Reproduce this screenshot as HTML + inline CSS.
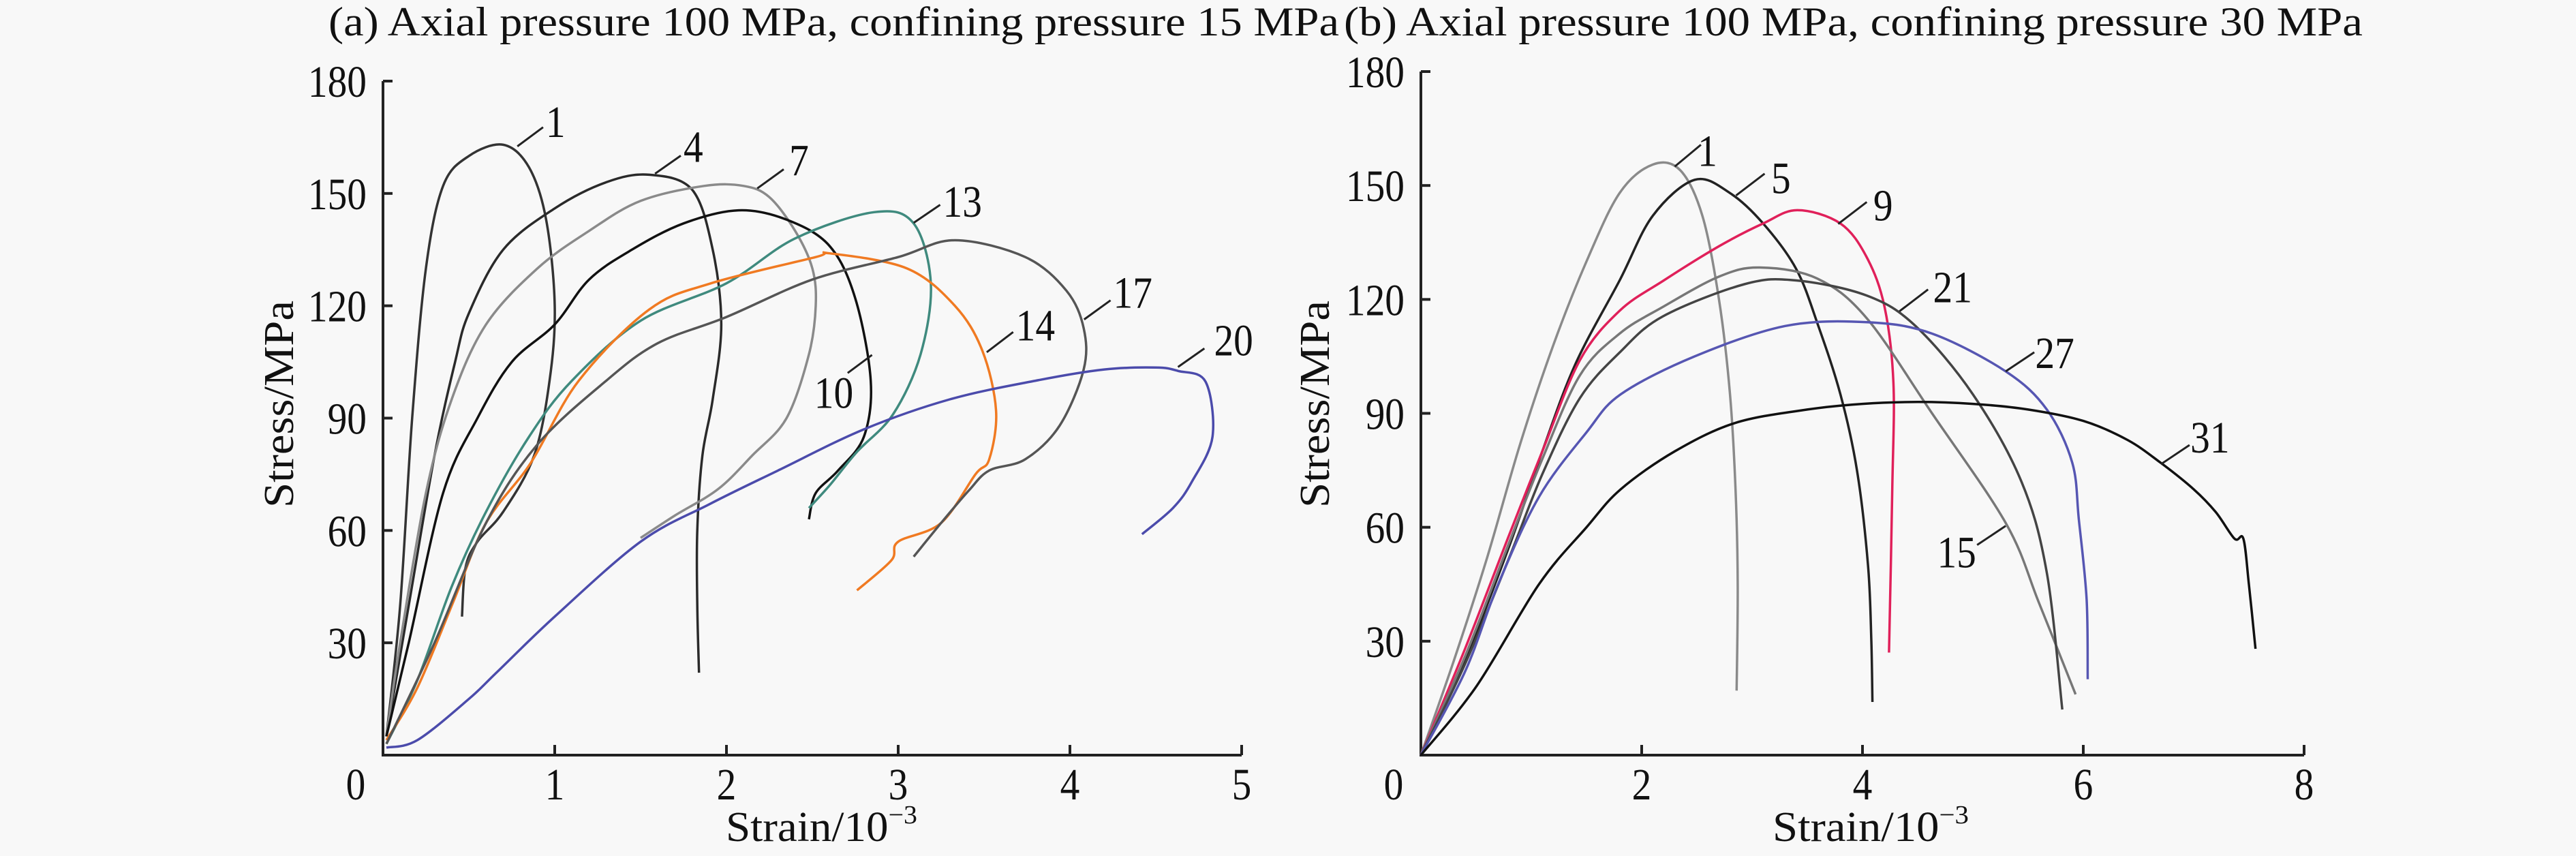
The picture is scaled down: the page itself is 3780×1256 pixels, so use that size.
<!DOCTYPE html>
<html><head><meta charset="utf-8"><style>
html,body{margin:0;padding:0;background:#f8f8f8;}
svg{display:block;}
text{font-family:"Liberation Serif",serif;fill:#111;}
</style></head><body>
<svg id="chart" width="3780" height="1256" viewBox="0 0 3780 1256" xmlns="http://www.w3.org/2000/svg">
<rect width="3780" height="1256" fill="#f8f8f8"/>
<text x="482" y="52" font-size="60" textLength="1483" lengthAdjust="spacingAndGlyphs">(a) Axial pressure 100 MPa, confining pressure 15 MPa</text>
<text x="1972" y="52" font-size="60" textLength="1495" lengthAdjust="spacingAndGlyphs">(b) Axial pressure 100 MPa, confining pressure 30 MPa</text>
<g id="panelA"></g>
<g id="panelB"></g>
</svg>
<script>
// ---------- Panel (a) data ----------
const aXTicks = [0,1,2,3,4,5];
const aYTicks = [30,60,90,120,150,180];
const aIds = ["1","4","7","10","13","14","17","20"];
const aC1  = [[0.02,5],[0.1,40],[0.17,90],[0.25,130],[0.35,152],[0.5,160],[0.7,163],[0.85,157],[0.95,143],[1.0,120],[0.97,100],[0.88,80],[0.7,65],[0.55,57],[0.48,50],[0.46,37]];
const aC4  = [[0.02,5],[0.15,40],[0.3,80],[0.42,105],[0.5,118],[0.7,135],[1.0,146],[1.3,153],[1.55,155],[1.8,151],[1.92,135],[1.97,115],[1.92,95],[1.86,80],[1.83,60],[1.83,40],[1.84,22]];
const aC7  = [[0.02,5],[0.1,30],[0.25,70],[0.4,95],[0.6,115],[0.9,130],[1.2,140],[1.5,148],[1.87,152],[2.1,152],[2.25,149],[2.4,140],[2.5,130],[2.52,120],[2.48,107],[2.35,90],[2.15,80],[1.95,71],[1.7,64],[1.5,58]];
const aC10 = [[0.02,5],[0.15,30],[0.35,70],[0.55,90],[0.75,105],[1.0,115],[1.2,127],[1.45,135],[1.75,142],[2.07,145.5],[2.35,143],[2.6,136],[2.75,122],[2.84,100],[2.8,85],[2.65,76],[2.52,70],[2.48,63]];
const aC13 = [[0.02,3],[0.2,20],[0.4,45],[0.6,65],[0.85,85],[1.1,100],[1.5,116],[2.0,126],[2.4,138],[2.86,145],[3.09,142],[3.19,126],[3.13,107],[2.97,91],[2.76,81],[2.6,72],[2.48,66]];
const aC14 = [[0.02,4],[0.2,18],[0.41,41],[0.6,62],[0.86,78],[1.14,100],[1.55,119],[1.91,126],[2.52,133],[2.6,134],[3.05,130],[3.33,120],[3.49,108],[3.57,92],[3.53,79],[3.45,75],[3.25,62],[3.0,57],[2.96,52],[2.76,44]];
const aC17 = [[0.02,3],[0.3,30],[0.6,62],[0.9,83],[1.3,100],[1.6,110],[2.0,117],[2.5,127],[3.0,133],[3.33,137.5],[3.74,133],[3.98,124],[4.08,114],[4.08,103],[3.94,88],[3.74,79],[3.53,76],[3.41,70.6],[3.25,62],[3.09,53]];
const aC20 = [[0.02,2],[0.2,4],[0.5,15],[0.66,22],[1.0,37],[1.5,57],[1.9,67],[2.3,76],[2.8,87],[3.3,95],[3.8,100],[4.2,103],[4.5,103.5],[4.63,102.6],[4.79,99.7],[4.83,85],[4.71,73],[4.6,66],[4.42,59]];
// ---------- Panel (b) data ----------
const bXTicks = [0,2,4,6,8];
const bYTicks = [30,60,90,120,150,180];
const bIds = ["1","5","9","15","21","27","31"];
const bC1  = [[0,0],[0.3,25],[0.6,52],[0.9,82],[1.2,108],[1.5,130],[1.8,148],[2.1,155.5],[2.35,154],[2.55,142],[2.7,120],[2.8,95],[2.85,70],[2.87,45],[2.86,17]];
const bC5  = [[0,0],[0.4,25],[0.8,55],[1.1,80],[1.4,103],[1.8,125],[2.1,142],[2.48,151.5],[2.8,148],[3.1,140],[3.4,128],[3.6,113],[3.8,95],[3.95,75],[4.05,50],[4.08,30],[4.09,14]];
const bC9  = [[0,0],[0.4,28],[0.8,58],[1.1,80],[1.44,104],[1.8,117],[2.2,125],[2.7,134],[3.1,140],[3.41,143.5],[3.8,140],[4.04,131],[4.2,118],[4.28,98],[4.27,70],[4.24,27]];
const bC15 = [[0,0],[0.4,26],[0.8,56],[1.1,78],[1.44,100],[1.8,111],[2.19,118],[2.7,126],[3.07,128.4],[3.59,125.5],[4.04,115],[4.63,90],[5.3,61],[5.6,40],[5.93,16]];
const bC21 = [[0,0],[0.4,24],[0.8,52],[1.1,74],[1.44,94],[1.8,106],[2.19,115.5],[2.93,124],[3.4,125],[4.04,121],[4.48,113],[5.0,95],[5.44,72],[5.67,48],[5.81,12]];
const bC27 = [[0,0],[0.4,22],[0.7,45],[1.07,68],[1.5,85],[1.81,95],[2.48,105],[3.3,113],[4.04,114],[4.63,111],[5.3,101],[5.67,91],[5.9,77],[5.96,62],[6.03,41],[6.04,20]];
const bC31 = [[0,0],[0.5,18],[1.07,45],[1.5,60],[1.81,70],[2.3,80],[2.85,87.5],[3.5,91],[4.0,92.5],[4.5,93],[5.0,92.5],[5.5,91],[6.0,88],[6.4,83],[6.7,77],[7.0,70],[7.2,64],[7.37,57],[7.45,57],[7.5,45],[7.56,28]];

const NS = "http://www.w3.org/2000/svg";
function mk(tag, attrs, parent){ const e=document.createElementNS(NS,tag); for(const k in attrs) e.setAttribute(k,attrs[k]); parent.appendChild(e); return e; }
function smooth(pts){
  let d = "M"+pts[0][0].toFixed(1)+","+pts[0][1].toFixed(1);
  for(let i=0;i<pts.length-1;i++){
    const p0=pts[Math.max(0,i-1)], p1=pts[i], p2=pts[i+1], p3=pts[Math.min(pts.length-1,i+2)];
    const c1x=p1[0]+(p2[0]-p0[0])/6, c1y=p1[1]+(p2[1]-p0[1])/6;
    const c2x=p2[0]-(p3[0]-p1[0])/6, c2y=p2[1]-(p3[1]-p1[1])/6;
    d+=" C"+c1x.toFixed(1)+","+c1y.toFixed(1)+" "+c2x.toFixed(1)+","+c2y.toFixed(1)+" "+p2[0].toFixed(1)+","+p2[1].toFixed(1);
  }
  return d;
}
function panel(g, cfg){
  const sx = v => cfg.x0 + (v - 0) / cfg.xmax * (cfg.x1 - cfg.x0);
  const sy = v => cfg.y0 - v / 180 * (cfg.y0 - cfg.y1);
  const ax = mk("path",{d:`M${cfg.x0},${cfg.y1} L${cfg.x0},${cfg.y0} L${cfg.x1},${cfg.y0}`,fill:"none",stroke:"#222","stroke-width":4},g);
  
  
  cfg.yt.forEach(v=>{
    const t = mk("line",{x1:cfg.x0,x2:cfg.x0+14,y1:sy(v),y2:sy(v),stroke:"#222","stroke-width":4},g);
    
    
    const l = mk("text",{x:cfg.x0-24,y:sy(v)+23,"font-size":66,"text-anchor":"end",transform:`translate(${cfg.x0-24},0) scale(0.87,1) translate(${-(cfg.x0-24)},0)`},g);
    l.textContent = v;
    
    
  });
  cfg.xt.forEach(v=>{
    if(v>0){
      const t = mk("line",{x1:sx(v),x2:sx(v),y1:cfg.y0,y2:cfg.y0-15,stroke:"#222","stroke-width":4},g);
      
      
    }
    const cx = v===0 ? cfg.x0-40 : sx(v);
    const l = mk("text",{x:cx,y:1173,"font-size":66,"text-anchor":"middle",transform:`translate(${cx},0) scale(0.87,1) translate(${-cx},0)`},g);
    l.textContent = v;
    
    
  });
  const xl = mk("text",{x:cfg.xlx,y:1234,"font-size":62,textLength:cfg.xlw,lengthAdjust:"spacingAndGlyphs"},g);
  xl.innerHTML = 'Strain/10<tspan font-size="38" dy="-26">−3</tspan>';
  
  
  const yl = mk("text",{x:0,y:0,"font-size":62,"text-anchor":"middle",textLength:304,lengthAdjust:"spacingAndGlyphs",transform:`translate(${cfg.ylx},593) rotate(-90)`},g);
  yl.textContent = "Stress/MPa";
  
  
  cfg.series.forEach((s,i)=>{
    const pts = s.map(p=>[sx(p[0]),sy(p[1])]);
    const p = mk("path",{d:smooth(pts),fill:"none",stroke:cfg.colors[i],"stroke-width":3.5,"stroke-linejoin":"round"},g);
    
    
  });
  cfg.labels.forEach(L=>{
    const ln = mk("line",{x1:L[2],y1:L[3],x2:L[4],y2:L[5],stroke:"#222","stroke-width":3},g);
    
    
    const t = mk("text",{x:L[0],y:L[1]+23,"font-size":66,"text-anchor":"middle",transform:`translate(${L[0]},0) scale(0.87,1) translate(${-L[0]},0)`},g);
    t.textContent = L[6];
    
    
  });
}
const za = (zx,zy)=>[300+zx*1.0204, zy/1.248];
const zb = (zx,zy)=>[1900+zx*1.199, zy/1.248];
function lab(f, tx,ty, ax1,ay1, ax2,ay2, s){ const a=f(tx,ty), b=f(ax1,ay1), c=f(ax2,ay2); return [a[0],a[1],b[0],b[1],c[0],c[1],s]; }
panel(document.getElementById("panelA"),{
  x0:562,x1:1822,xmax:5,y0:1108,y1:119,xt:aXTicks,yt:aYTicks,xlx:1065,xlw:281,ylx:430,
  series:[aC1,aC4,aC7,aC10,aC13,aC14,aC17,aC20], ids:aIds,
  colors:["#333","#2a2a2a","#8a8a8a","#111","#3f8a7e","#f07a22","#555","#4b4bab"],
  labels:[lab(za,505,222,450,268,487,233,"1"),lab(za,703,268,648,318,685,285,"4"),lab(za,855,292,795,345,833,310,"7"),
          lab(za,1090,368,1020,408,1058,375,"13"),lab(za,1335,535,1265,585,1303,550,"17"),lab(za,1195,595,1125,645,1163,608,"14"),
          lab(za,1480,622,1400,672,1438,638,"20"),lab(za,905,718,960,650,925,683,"10")]
});
panel(document.getElementById("panelB"),{
  x0:2085,x1:3381,xmax:8,y0:1108,y1:105,xt:bXTicks,yt:bYTicks,xlx:2601,xlw:288,ylx:1950,
  series:[bC1,bC5,bC9,bC15,bC21,bC27,bC31], ids:bIds,
  colors:["#8a8a8a","#222","#e0205a","#777","#444","#5656b2","#111"],
  labels:[lab(zb,505,275,465,305,497,265,"1"),lab(zb,595,325,540,358,575,318,"5"),lab(zb,720,375,665,410,700,370,"9"),
          lab(zb,805,525,740,570,775,530,"21"),lab(zb,930,645,870,680,905,645,"27"),lab(zb,1120,800,1060,850,1095,815,"31"),
          lab(zb,810,1010,870,963,835,998,"15")]
});
</script>
</body></html>
